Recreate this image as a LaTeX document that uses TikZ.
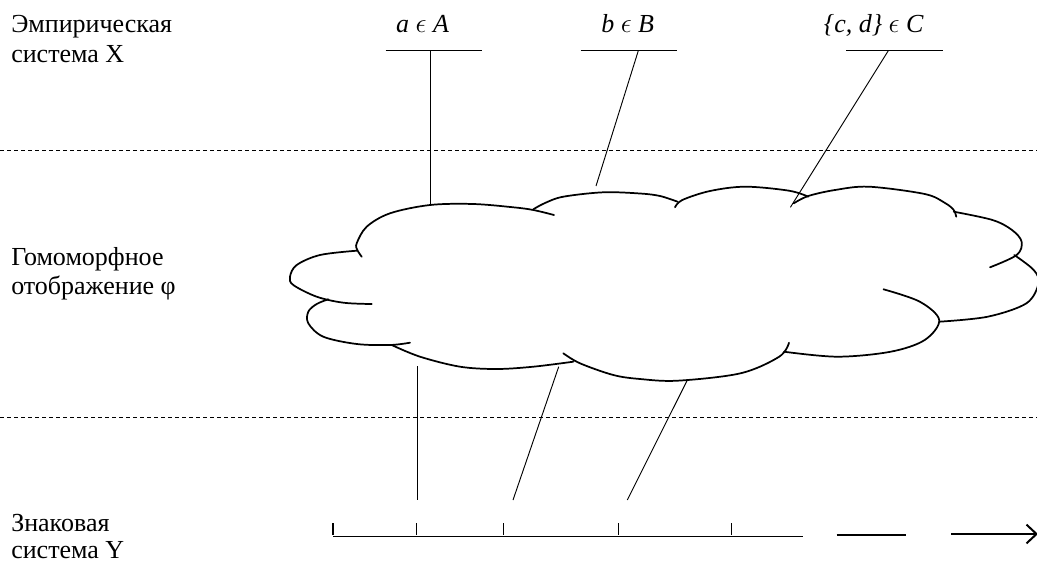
\documentclass[tikz,border=0pt]{standalone}
\usepackage{fontspec}
\setmainfont{Liberation Serif}
\usetikzlibrary{arrows.meta}
\tikzset{
  lbl/.style={anchor=base west, inner sep=0pt, font=\fontsize{19.5pt}{22.5pt}\selectfont},
  toplbl/.style={anchor=base, inner sep=0pt, font=\fontsize{19.5pt}{22.5pt}\selectfont\itshape},
  sep/.style={line width=0.6pt, dash pattern=on 3pt off 2.25pt},
  bar/.style={line width=0.9pt},
  conn/.style={line width=0.7pt},
  lobe/.style={line width=1.3pt, line cap=round},
  axis/.style={line width=1pt},
  tick/.style={line width=0.9pt},
  bigarrow/.style={line width=2pt, -{Straight Barb[length=7.5pt,width=14pt,line width=1.5pt]}}
}
\begin{document}
\begin{tikzpicture}[x=0.75pt,y=-0.75pt]
\useasboundingbox (0,0) rectangle (1037,563);
% separators
\coordinate (s1l) at (0,150); \coordinate (s1r) at (1037,150);
\coordinate (s2l) at (0,417); \coordinate (s2r) at (1037,417);
\draw[sep] (s1l) -- (s1r);
\draw[sep] (s2l) -- (s2r);
% left labels
\node[lbl] (x1) at (11,33) {Эмпирическая};
\node[lbl] (x2) at (11,63) {система X};
\node[lbl] (h1) at (11,265) {Гомоморфное};
\node[lbl] (h2) at (11,294) {отображение φ};
\node[lbl] (y1) at (11,531) {Знаковая};
\node[lbl] (y2) at (11,558) {система Y};
% top labels
\node[toplbl] (la) at (422.6,33) {a \(\epsilon\) A};
\node[toplbl] (lb) at (627.7,33) {b \(\epsilon\) B};
\node[toplbl] (lc) at (873.7,33) {\{c, d\} \(\epsilon\) C};
% bars
\coordinate (a1) at (385.5,50.7); \coordinate (a2) at (481.7,50.7);
\coordinate (b1) at (580.7,50.7); \coordinate (b2) at (677.3,50.7);
\coordinate (c1) at (846,50.7); \coordinate (c2) at (942.7,50.7);
\draw[bar] (a1) -- (a2);
\draw[bar] (b1) -- (b2);
\draw[bar] (c1) -- (c2);
% top connectors
\coordinate (ta) at (430,50.7); \coordinate (ea) at (430,205);
\coordinate (tb) at (638.3,50.7); \coordinate (eb) at (596,186);
\coordinate (tc) at (888.3,50.7); \coordinate (ec) at (790.4,207.3);
\draw[conn] (ta) -- (ea);
\draw[conn] (tb) -- (eb);
\draw[conn] (tc) -- (ec);
% cloud
\draw[lobe] plot[smooth, tension=0.55] coordinates {(361.7,256.7) (357.3,250) (356.7,243.3) (366.7,226.7) (390,213.3) (430,205) (473.3,204) (513.3,207.3) (533.3,210) (554,215)};
\draw[lobe] plot[smooth, tension=0.55] coordinates {(533.3,209.3) (545,203) (563.3,196.7) (603.3,192.3) (640,193.5) (660,196) (677.5,201.7)};
\draw[lobe] plot[smooth, tension=0.55] coordinates {(675,207.3) (682.3,200) (710,191) (745.3,186.7) (789,190.7) (808.3,196.7)};
\draw[lobe] plot[smooth, tension=0.55] coordinates {(793.8,203.3) (808.3,196) (835,190) (868.9,186.7) (924.7,194) (945,203) (953.7,210) (956.2,216.7)};
\draw[lobe] plot[smooth, tension=0.55] coordinates {(953.7,211.7) (992.5,220) (1012,230) (1021.6,241.7) (1016.7,255) (990,267.3)};
\draw[lobe] plot[smooth, tension=0.55] coordinates {(1014.3,255) (1033.7,270) (1038.5,283.3) (1026.4,303.3) (987.7,316.7) (939.2,321.7)};
\draw[lobe] plot[smooth, tension=0.55] coordinates {(883.5,289.3) (919.8,301.7) (939.2,320) (924.7,340) (890.7,351.7) (837.4,356.7) (784,351.7)};
\draw[lobe] plot[smooth, tension=0.55] coordinates {(789,342.7) (779.2,356.7) (740.5,373.3) (677.5,380.7) (640,379) (613.3,375) (580,363.3) (563.3,353.3)};
\draw[lobe] plot[smooth, tension=0.55] coordinates {(573.3,361.7) (533.3,366.7) (496.7,369) (460,366.7) (420,356.7) (391.7,345)};
\draw[lobe] plot[smooth, tension=0.55] coordinates {(410,342.7) (390,345) (356.7,344) (323.3,336.7) (308.3,323.3) (308.3,311.7) (316.7,304) (328.3,299.3)};
\draw[lobe] plot[smooth, tension=0.55] coordinates {(371.7,304) (343.3,302.7) (316.7,296.7) (293.3,285) (290,276.7) (296.7,265) (320,255) (356.7,250.7)};
% bottom connectors
\coordinate (ba) at (417,366); \coordinate (da) at (417,500);
\coordinate (bb) at (558.7,366.7); \coordinate (db) at (513,500);
\coordinate (bc) at (687,380.7); \coordinate (dc) at (627.3,500);
\draw[conn] (ba) -- (da);
\draw[conn] (bb) -- (db);
\draw[conn] (bc) -- (dc);
% axis
\coordinate (ax0) at (333,536.7); \coordinate (ax1) at (802.5,536.7);
\draw[axis] (ax0) -- (ax1);
\foreach \t in {333,416.5,503.3,618.2,731.6} \draw[tick] (\t,523) -- (\t,535);
\coordinate (g0) at (836.7,535); \coordinate (g1) at (906.3,535);
\draw[axis] (g0) -- (g1);
\coordinate (r0) at (951,534); \coordinate (r1) at (1038,534);
\draw[bigarrow] (r0) -- (r1);
\end{tikzpicture}
\end{document}
